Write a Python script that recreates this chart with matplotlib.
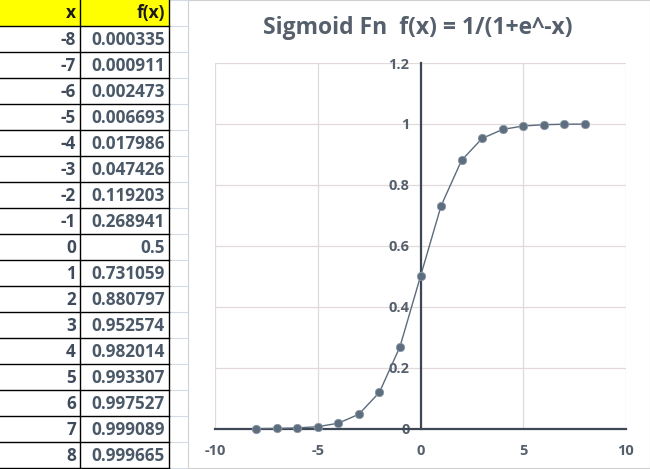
import matplotlib
matplotlib.use("Agg")
import matplotlib.pyplot as plt
from matplotlib.patches import Rectangle

# dati della tabella / serie
x_vals = [-8, -7, -6, -5, -4, -3, -2, -1, 0, 1, 2, 3, 4, 5, 6, 7, 8]
fx_vals = [0.000335, 0.000911, 0.002473, 0.006693, 0.017986, 0.047426,
           0.119203, 0.268941, 0.5, 0.731059, 0.880797, 0.952574,
           0.982014, 0.993307, 0.997527, 0.999089, 0.999665]
x_ticks = [-10, -5, 0, 5, 10]
y_ticks = [0, 0.2, 0.4, 0.6, 0.8, 1, 1.2]
title = "Sigmoid Fn  f(x) = 1/(1+e^-x)"

plt.rcParams["axes.unicode_minus"] = False
FONT = "Open Sans"
W, H = 650, 469

fig = plt.figure(figsize=(W / 100, H / 100), dpi=100)
fig.patch.set_facecolor("white")

# sfondo in coordinate pixel
bg = fig.add_axes([0, 0, 1, 1])
bg.set_xlim(0, W)
bg.set_ylim(H, 0)
bg.axis("off")

row_h = 26
col1, col2 = 80, 169
chart_left = 188

# griglia del foglio (tenue) tra tabella e grafico
for k in range(19):
    y = k * row_h
    bg.plot([col2, chart_left], [y, y], color="#d4dbe6", lw=0.8)

# intestazione gialla
bg.add_patch(Rectangle((0, 0), col2, row_h, facecolor="#ffff00", edgecolor="none"))
bg.text(col1 - 4, row_h / 2, "x", ha="right", va="center", fontsize=12.5,
        fontweight="bold", family=FONT, color="#1a1a1a")
bg.text(col2 - 4, row_h / 2, "f(x)", ha="right", va="center", fontsize=12.5,
        fontweight="bold", family=FONT, color="#1a1a1a")

for i, (xv, fv) in enumerate(zip(x_vals, fx_vals)):
    yc = row_h * (i + 1) + row_h / 2 + 1
    bg.text(col1 - 4, yc, str(xv), ha="right", va="center", fontsize=12.3,
            fontweight="bold", family=FONT, color="#3f4b5a")
    lab = f"{fv:.6f}".rstrip("0")
    bg.text(col2 - 4, yc, lab, ha="right", va="center", fontsize=12.3,
            fontweight="bold", family=FONT, color="#4a5868")

# linee della tabella
for k in range(1, 19):
    y = k * row_h
    bg.plot([0, col2], [y, y], color="black", lw=1)
bg.plot([col1, col1], [0, H], color="black", lw=1)
bg.plot([col2, col2], [0, H], color="black", lw=1)

# area del grafico
bg.add_patch(Rectangle((chart_left, 0), W - chart_left, H - 1,
                       facecolor="white", edgecolor="#d0d0d0", lw=0.8))
bg.text(418, 28, title, ha="center", va="center", fontsize=16.5,
        fontweight="bold", family=FONT, color="#56606c")

ax = fig.add_axes([215 / W, 40.3 / H, (626 - 215) / W, (428.7 - 63) / H])
ax.set_facecolor("none")
ax.set_xlim(-10, 10)
ax.set_ylim(0, 1.2)
ax.set_xticks(x_ticks)
ax.set_yticks(y_ticks)
ax.set_yticklabels([f"{v:g}" for v in y_ticks])
ax.grid(True, color="#e2dada", lw=0.9)
ax.set_axisbelow(True)

for s in ["top", "right"]:
    ax.spines[s].set_visible(False)
ax.spines["left"].set_position(("data", 0))
ax.spines["left"].set_color("#3e4854")
ax.spines["left"].set_linewidth(1.6)
ax.spines["bottom"].set_color("#3e4854")
ax.spines["bottom"].set_linewidth(1.6)
ax.spines["left"].set_zorder(1)

ax.tick_params(axis="both", length=0, labelsize=10.5, labelcolor="#56606c")
ax.tick_params(axis="y", pad=8)
ax.tick_params(axis="x", pad=11)
for lab in ax.get_xticklabels() + ax.get_yticklabels():
    lab.set_fontfamily(FONT)
    lab.set_fontweight("bold")

ax.plot(x_vals, fx_vals, color="#5b6b7c", lw=1, marker="o", markersize=6,
        markerfacecolor="#5f6e7e", markeredgecolor="#8a98a6", markeredgewidth=0.6,
        clip_on=False, zorder=3)

fig.savefig("out.png", dpi=100)
